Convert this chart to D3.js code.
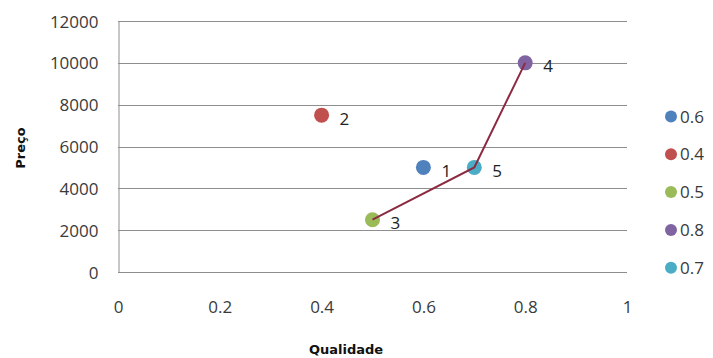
<!DOCTYPE html>
<html>
<head>
<meta charset="utf-8">
<script src="https://cdn.jsdelivr.net/npm/d3@7"></script>
<style>
  html, body { margin: 0; padding: 0; background: #fff; }
  svg { display: block; }
</style>
</head>
<body>
<svg id="chart" width="713" height="358"></svg>
<script>
// Points: quality (x), price (y), label and legend name
const pointLabels = ["1", "2", "3", "4", "5"];
const qualidade = [0.6, 0.4, 0.5, 0.8, 0.7];
const preco = [5000, 7500, 2500, 10000, 5000];
const seriesNames = ["0.6", "0.4", "0.5", "0.8", "0.7"];
const seriesColors = ["#4f81bd", "#c0504d", "#9bbb59", "#8064a2", "#4bacc6"];

// Connecting line runs through points 3 -> 5 -> 4
const pathOrder = [2, 4, 3];

const xTicks = [0, 0.2, 0.4, 0.6, 0.8, 1];
const yTicks = [0, 2000, 4000, 6000, 8000, 10000, 12000];

const svg = d3.select("#chart");
const plotLeft = 118, plotRight = 627, plotTop = 21, plotBottom = 272;

const x = d3.scaleLinear().domain([0, 1]).range([plotLeft, plotRight]);
const y = d3.scaleLinear().domain([0, 12000]).range([plotBottom, plotTop]);

const font = "'Open Sans', 'Liberation Sans', sans-serif";
const fontSize = 17;

// Horizontal gridlines
svg.append("g")
  .selectAll("line")
  .data(yTicks)
  .join("line")
  .attr("x1", plotLeft).attr("x2", plotRight)
  .attr("y1", d => Math.round(y(d)) + 0.5)
  .attr("y2", d => Math.round(y(d)) + 0.5)
  .attr("stroke", "#8e8e8e")
  .attr("stroke-width", 1);

// Vertical axis line with value labels
const yAxis = d3.axisLeft(y).tickValues(yTicks).tickSize(0).tickPadding(20).tickFormat(d3.format("d"));
const gy = svg.append("g").attr("transform", `translate(${plotLeft + 0.5},0)`).call(yAxis);
gy.select(".domain").attr("stroke", "#8e8e8e");
gy.selectAll("text").attr("font-family", font).attr("font-size", fontSize).attr("fill", "#3a3a3a").attr("dy", "0.36em");

// Horizontal axis labels only
const xAxis = d3.axisBottom(x).tickValues(xTicks).tickSize(0).tickPadding(0).tickFormat(d => String(d));
const gx = svg.append("g").attr("transform", `translate(0,${plotBottom})`).call(xAxis);
gx.select(".domain").remove();
gx.selectAll("text").attr("font-family", font).attr("font-size", fontSize).attr("fill", "#3a3a3a")
  .attr("dy", 0).attr("y", 41);

// Points
svg.append("g")
  .selectAll("circle")
  .data(qualidade)
  .join("circle")
  .attr("cx", (d) => x(d))
  .attr("cy", (d, i) => y(preco[i]))
  .attr("r", 7.5)
  .attr("fill", (d, i) => seriesColors[i]);

// Connecting line
const line = d3.line()
  .x(i => x(qualidade[i]))
  .y(i => y(preco[i]));
svg.append("path")
  .attr("d", line(pathOrder))
  .attr("fill", "none")
  .attr("stroke", "#8c2a42")
  .attr("stroke-width", 2);

// Data labels
svg.append("g")
  .selectAll("text")
  .data(pointLabels)
  .join("text")
  .attr("x", (d, i) => x(qualidade[i]) + 18)
  .attr("y", (d, i) => y(preco[i]) + 9.5)
  .attr("font-family", font)
  .attr("font-size", fontSize)
  .attr("fill", "#222")
  .text(d => d);

// Legend
const legend = svg.append("g").attr("transform", "translate(671,116.5)");
const rows = legend.selectAll("g")
  .data(seriesNames)
  .join("g")
  .attr("transform", (d, i) => `translate(0,${i * 37.8})`);
rows.append("circle").attr("r", 6).attr("fill", (d, i) => seriesColors[i]);
rows.append("text")
  .attr("x", 9).attr("y", 6)
  .attr("font-family", font)
  .attr("font-size", fontSize)
  .attr("fill", "#3a3a3a")
  .text(d => d);

// Axis titles
svg.append("text")
  .attr("transform", "translate(25,148) rotate(-90)")
  .attr("text-anchor", "middle")
  .attr("font-family", "'DejaVu Sans', sans-serif")
  .attr("font-weight", "bold")
  .attr("font-size", 13)
  .attr("fill", "#111")
  .text("Preço");

svg.append("text")
  .attr("x", 346).attr("y", 354)
  .attr("text-anchor", "middle")
  .attr("font-family", "'DejaVu Sans', sans-serif")
  .attr("font-weight", "bold")
  .attr("font-size", 13)
  .attr("fill", "#111")
  .text("Qualidade");
</script>
</body>
</html>
